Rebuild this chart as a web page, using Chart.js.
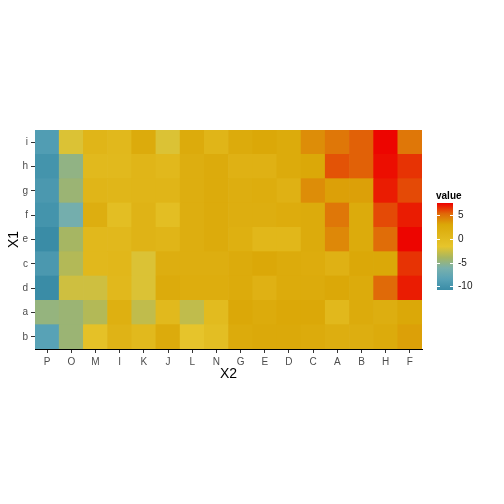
<!DOCTYPE html>
<html>
<head>
  <title>Heatmap</title>
  <script src="https://cdn.jsdelivr.net/npm/chart.js"></script>
  <style>
    body { margin: 0; background: #fff; }
    #wrap { width: 504px; height: 504px; }
  </style>
</head>
<body>
  <div id="wrap"><canvas id="heatChart" width="504" height="504"></canvas></div>

  <script>
    // columns (X2) left to right, rows (X1) bottom to top
    const columns = ['P', 'O', 'M', 'I', 'K', 'J', 'L', 'N', 'G', 'E', 'D', 'C', 'A', 'B', 'H', 'F'];
    const rows = ['b', 'a', 'd', 'c', 'e', 'f', 'g', 'h', 'i'];

    const rowB = [-8.5, -4.5, -1, 1.2, 0.3, 2.5, -1.5, -0.5, 2.5, 2.8, 2.8, 2.5, 2, 2, 2.5, 3.3];
    const rowA = [-4.8, -4.5, -3.5, 1.8, -3, 0.3, -3, 0, 3, 2.5, 3, 3, 0.5, 2.5, 2, 3];
    const rowD = [-10.8, -2.5, -2.5, 0.5, -2, 2.5, 2.2, 2.2, 2.5, 1.5, 2.5, 2.5, 3, 2.5, 5.3, 7];
    const rowC = [-9.5, -3.5, 0.5, 0.7, -2, 2, 2, 2, 2.5, 3, 2.5, 2.3, 1.5, 3, 3, 6.5];
    const rowE = [-10.8, -4, 0.5, 0.5, 1.2, 1, 2, 2.5, 1.8, 0.7, 0.7, 2.5, 4.2, 2.5, 5.2, 7.5];
    const rowF = [-10, -6.5, 2, -0.5, 1.2, -0.5, 2, 2.5, 2, 2, 2.3, 2.5, 4.8, 2.5, 6, 7];
    const rowG = [-9.5, -4.5, 1, 0.8, 1, 1, 2, 2.5, 2, 2.2, 1.5, 4, 3.3, 3.3, 7, 6];
    const rowH = [-10, -5, 0.3, 0.3, 1, 0.5, 2, 2.5, 1.5, 1.5, 2.5, 3, 5.8, 5.5, 7.3, 6.5];
    const rowI = [-9, -2, 1, 0.5, 2.5, -2, 2.5, 1, 2.5, 3, 2.5, 4, 4.8, 5.5, 7.5, 4.8];
    const rowValues = [rowB, rowA, rowD, rowC, rowE, rowF, rowG, rowH, rowI];

    // colour scale (legend ticks and range)
    const legendTicks = [5, 0, -5, -10];
    const valueMin = -10.8, valueMax = 7.6;
    const colorStops = [
      [-10.8, '#3A8CA6'],
      [-8.5, '#58A2B6'],
      [-6.2, '#78B0AC'],
      [-3.9, '#A8B660'],
      [-1.6, '#E6C52C'],
      [3.0, '#DBA808'],
      [5.3, '#E06A08'],
      [7.6, '#EE0000']
    ];

    function hexToRgb(h) {
      return [parseInt(h.slice(1, 3), 16), parseInt(h.slice(3, 5), 16), parseInt(h.slice(5, 7), 16)];
    }

    function valueColor(v) {
      if (v <= colorStops[0][0]) return colorStops[0][1];
      for (let i = 1; i < colorStops.length; i++) {
        const [v1, c1] = colorStops[i];
        const [v0, c0] = colorStops[i - 1];
        if (v <= v1) {
          const t = (v - v0) / (v1 - v0);
          const a = hexToRgb(c0), b = hexToRgb(c1);
          const c = a.map((x, k) => Math.round(x + (b[k] - x) * t));
          return 'rgb(' + c.join(',') + ')';
        }
      }
      return colorStops[colorStops.length - 1][1];
    }

    // colour bar legend drawn next to the plot
    const colorBarPlugin = {
      id: 'colorBar',
      afterDraw(chart) {
        const ctx = chart.ctx;
        const x = 437, w = 16, top = 203, bottom = 290;
        const yOf = v => top + (valueMax - v) / (valueMax - valueMin) * (bottom - top);
        const grad = ctx.createLinearGradient(0, bottom, 0, top);
        colorStops.forEach(([v, c]) => grad.addColorStop((v - valueMin) / (valueMax - valueMin), c));
        ctx.save();
        ctx.fillStyle = grad;
        ctx.fillRect(x, top, w, bottom - top);

        ctx.strokeStyle = '#fff';
        ctx.lineWidth = 1;
        ctx.fillStyle = '#1a1a1a';
        ctx.font = '10px "Liberation Sans", Arial, sans-serif';
        ctx.textBaseline = 'middle';
        ctx.textAlign = 'left';
        legendTicks.forEach(v => {
          const y = Math.round(yOf(v)) + 0.5;
          ctx.beginPath();
          ctx.moveTo(x, y); ctx.lineTo(x + 3, y);
          ctx.moveTo(x + w - 3, y); ctx.lineTo(x + w, y);
          ctx.stroke();
          ctx.fillText(String(v), x + w + 5, y);
        });

        ctx.font = 'bold 10px "Liberation Sans", Arial, sans-serif';
        ctx.fillStyle = '#000';
        ctx.textBaseline = 'alphabetic';
        ctx.fillText('value', 436, 199);
        ctx.restore();
      }
    };

    const datasets = rowValues.map((vals, r) => ({
      label: rows[r],
      data: vals.map(() => [r, r + 1]),
      backgroundColor: vals.map(valueColor),
      borderWidth: 0,
      grouped: false,
      barPercentage: 1,
      categoryPercentage: 1
    }));

    const tickFont = { family: '"Liberation Sans", Arial, sans-serif', size: 10 };
    const titleFont = { family: '"Liberation Sans", Arial, sans-serif', size: 14 };

    new Chart(document.getElementById('heatChart').getContext('2d'), {
      type: 'bar',
      data: { labels: columns, datasets: datasets },
      options: {
        responsive: false,
        animation: false,
        layout: { padding: { top: 130, right: 82, bottom: 117, left: 0 } },
        plugins: { legend: { display: false }, tooltip: { enabled: false } },
        scales: {
          x: {
            type: 'category',
            offset: true,
            grid: { offset: false, drawOnChartArea: false, tickLength: 4, color: '#333', tickColor: '#333' },
            border: { display: true, color: '#000', width: 1 },
            ticks: { color: '#4d4d4d', font: tickFont, padding: 3, maxRotation: 0 },
            title: { display: true, text: 'X2', color: '#000', font: titleFont, padding: { top: 0, bottom: 4 } },
            afterFit(scale) { scale.height = 38; }
          },
          y: {
            type: 'linear',
            min: 0,
            max: rows.length,
            grid: { drawOnChartArea: false, tickLength: 4, color: '#333', tickColor: '#333' },
            border: { display: true, color: '#000', width: 1 },
            afterBuildTicks(scale) {
              scale.ticks = rows.map((_, i) => ({ value: i + 0.5 }));
            },
            ticks: {
              color: '#4d4d4d',
              font: tickFont,
              padding: 3,
              callback: v => rows[Math.floor(v)]
            },
            title: { display: true, text: 'X1', color: '#000', font: titleFont, padding: { top: 6, bottom: 0 } },
            afterFit(scale) { scale.width = 35; }
          }
        }
      },
      plugins: [colorBarPlugin]
    });
  </script>
</body>
</html>
